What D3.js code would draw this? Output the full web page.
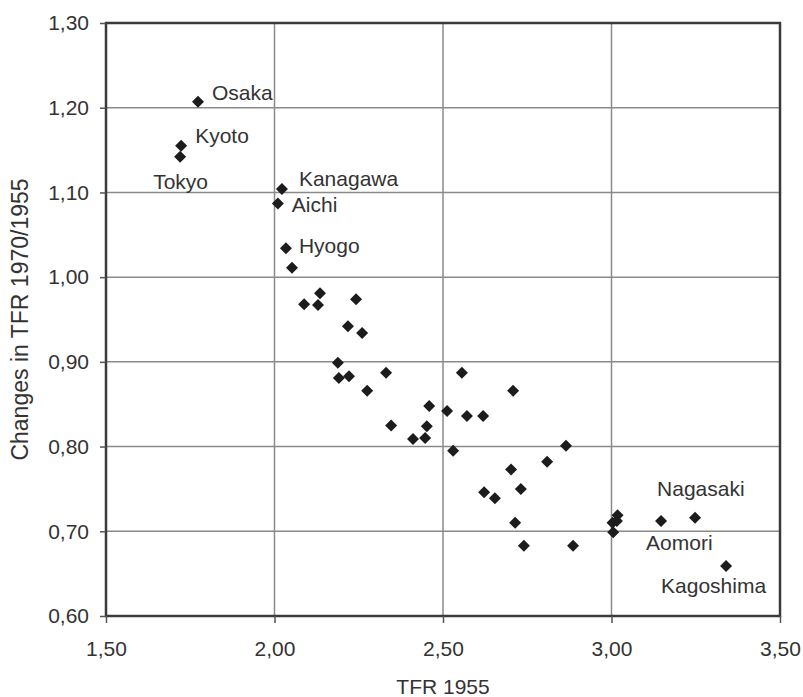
<!DOCTYPE html>
<html>
<head>
<meta charset="utf-8">
<script src="https://cdn.jsdelivr.net/npm/d3@7"></script>
<style>
    body { margin: 0; background: #fff; }
    svg text { font-family: "Liberation Sans", Arial, sans-serif; fill: #333; }
</style>
</head>
<body>
<div id="chart"></div>
<script>
// prefectures (empty name = unlabeled point)
var prefNames = ['Osaka', 'Kyoto', 'Tokyo', 'Kanagawa', 'Aichi', 'Hyogo',
    '', '', '', '', '', '', '', '', '', '', '', '', '', '', '', '', '', '', '', '',
    '', '', '', '', '', '', '', '', '', '', '', '', '', '', '', '',
    'Aomori', 'Nagasaki', 'Kagoshima'];

var tfr1955 = [1.773, 1.723, 1.720, 2.022, 2.010, 2.034,
    2.052, 2.135, 2.088, 2.129, 2.242, 2.218, 2.260, 2.188, 2.191, 2.221, 2.331, 2.556, 2.275, 2.708,
    2.459, 2.512, 2.571, 2.619, 2.346, 2.452,
    2.411, 2.447, 2.530, 2.865, 2.809, 2.702, 2.731, 2.622, 2.654, 2.714, 2.740, 2.886,
    3.018, 3.003, 3.016, 3.005,
    3.147, 3.248, 3.340];

var tfrChange = [1.207, 1.155, 1.142, 1.104, 1.087, 1.034,
    1.011, 0.981, 0.968, 0.967, 0.974, 0.942, 0.934, 0.899, 0.881, 0.883, 0.887, 0.887, 0.866, 0.866,
    0.848, 0.842, 0.836, 0.836, 0.825, 0.824,
    0.809, 0.810, 0.795, 0.801, 0.782, 0.773, 0.750, 0.746, 0.739, 0.710, 0.683, 0.683,
    0.719, 0.710, 0.712, 0.699,
    0.712, 0.716, 0.659];

var xTicks = [1.5, 2.0, 2.5, 3.0, 3.5];
var yTicks = [0.6, 0.7, 0.8, 0.9, 1.0, 1.1, 1.2, 1.3];

// label placement relative to the point
var labelOffsets = {
    'Osaka': [14, -2],
    'Kyoto': [14, -3],
    'Tokyo': [-27, 32],
    'Kanagawa': [17, -3],
    'Aichi': [14, 9],
    'Hyogo': [13, 5],
    'Nagasaki': [-38, -22],
    'Aomori': [-15, 29],
    'Kagoshima': [-65, 27]
};

var width = 803, height = 697;
var margin = {left: 106, right: 23, top: 23, bottom: 81};
var innerW = width - margin.left - margin.right,
    innerH = height - margin.top - margin.bottom;

var fmt = function(d){ return d3.format('.2f')(d).replace('.', ','); };

var x = d3.scaleLinear().domain([1.5, 3.5]).range([0, innerW]);
var y = d3.scaleLinear().domain([0.6, 1.3]).range([innerH, 0]);

var svg = d3.select('#chart').append('svg')
    .attr('width', width)
    .attr('height', height);

var g = svg.append('g')
    .attr('transform', 'translate(' + margin.left + ',' + margin.top + ')');

// gridlines
g.append('g')
    .selectAll('line')
    .data(yTicks.slice(1, -1))
    .enter().append('line')
        .attr('x1', 0).attr('x2', innerW)
        .attr('y1', function(d){ return y(d); })
        .attr('y2', function(d){ return y(d); })
        .attr('stroke', '#8a8a8a')
        .attr('stroke-width', 1.5);

g.append('g')
    .selectAll('line')
    .data(xTicks.slice(1, -1))
    .enter().append('line')
        .attr('y1', 0).attr('y2', innerH)
        .attr('x1', function(d){ return x(d); })
        .attr('x2', function(d){ return x(d); })
        .attr('stroke', '#8a8a8a')
        .attr('stroke-width', 1.5);

// plot frame
g.append('rect')
    .attr('width', innerW)
    .attr('height', innerH)
    .attr('fill', 'none')
    .attr('stroke', '#3a3a3a')
    .attr('stroke-width', 2.5);

// axes
var xAxis = g.append('g')
    .attr('transform', 'translate(0,' + innerH + ')')
    .call(d3.axisBottom(x).tickValues(xTicks).tickFormat(fmt).tickSize(7).tickPadding(18));

var yAxis = g.append('g')
    .call(d3.axisLeft(y).tickValues(yTicks).tickFormat(fmt).tickSize(6).tickPadding(11));

[xAxis, yAxis].forEach(function(ax){
    ax.select('.domain').remove();
    ax.selectAll('.tick line').attr('stroke', '#555').attr('stroke-width', 1.5);
    ax.selectAll('.tick text')
        .attr('fill', '#333')
        .style('font-size', '21px')
        .style('font-family', '"Liberation Sans", Arial, sans-serif');
});

// points
var diamond = d3.symbol().type(d3.symbolSquare).size(72);

var pts = tfr1955.map(function(v, i){
    return {name: prefNames[i], tfr: v, change: tfrChange[i]};
});

g.append('g')
    .selectAll('path')
    .data(pts)
    .enter().append('path')
        .attr('d', diamond)
        .attr('fill', '#1c1c1c')
        .attr('transform', function(d){
            return 'translate(' + x(d.tfr) + ',' + y(d.change) + ') rotate(45)';
        });

// labels
g.append('g')
    .selectAll('text')
    .data(pts.filter(function(d){ return d.name; }))
    .enter().append('text')
        .attr('x', function(d){ return x(d.tfr) + labelOffsets[d.name][0]; })
        .attr('y', function(d){ return y(d.change) + labelOffsets[d.name][1]; })
        .style('font-size', '21px')
        .text(function(d){ return d.name; });

// axis titles
svg.append('text')
    .attr('x', margin.left + innerW / 2)
    .attr('y', 694)
    .attr('text-anchor', 'middle')
    .style('font-size', '21px')
    .text('TFR 1955');

svg.append('text')
    .attr('transform', 'translate(28,' + (margin.top + innerH / 2) + ') rotate(-90)')
    .attr('text-anchor', 'middle')
    .style('font-size', '23px')
    .text('Changes in TFR 1970/1955');
</script>
</body>
</html>
